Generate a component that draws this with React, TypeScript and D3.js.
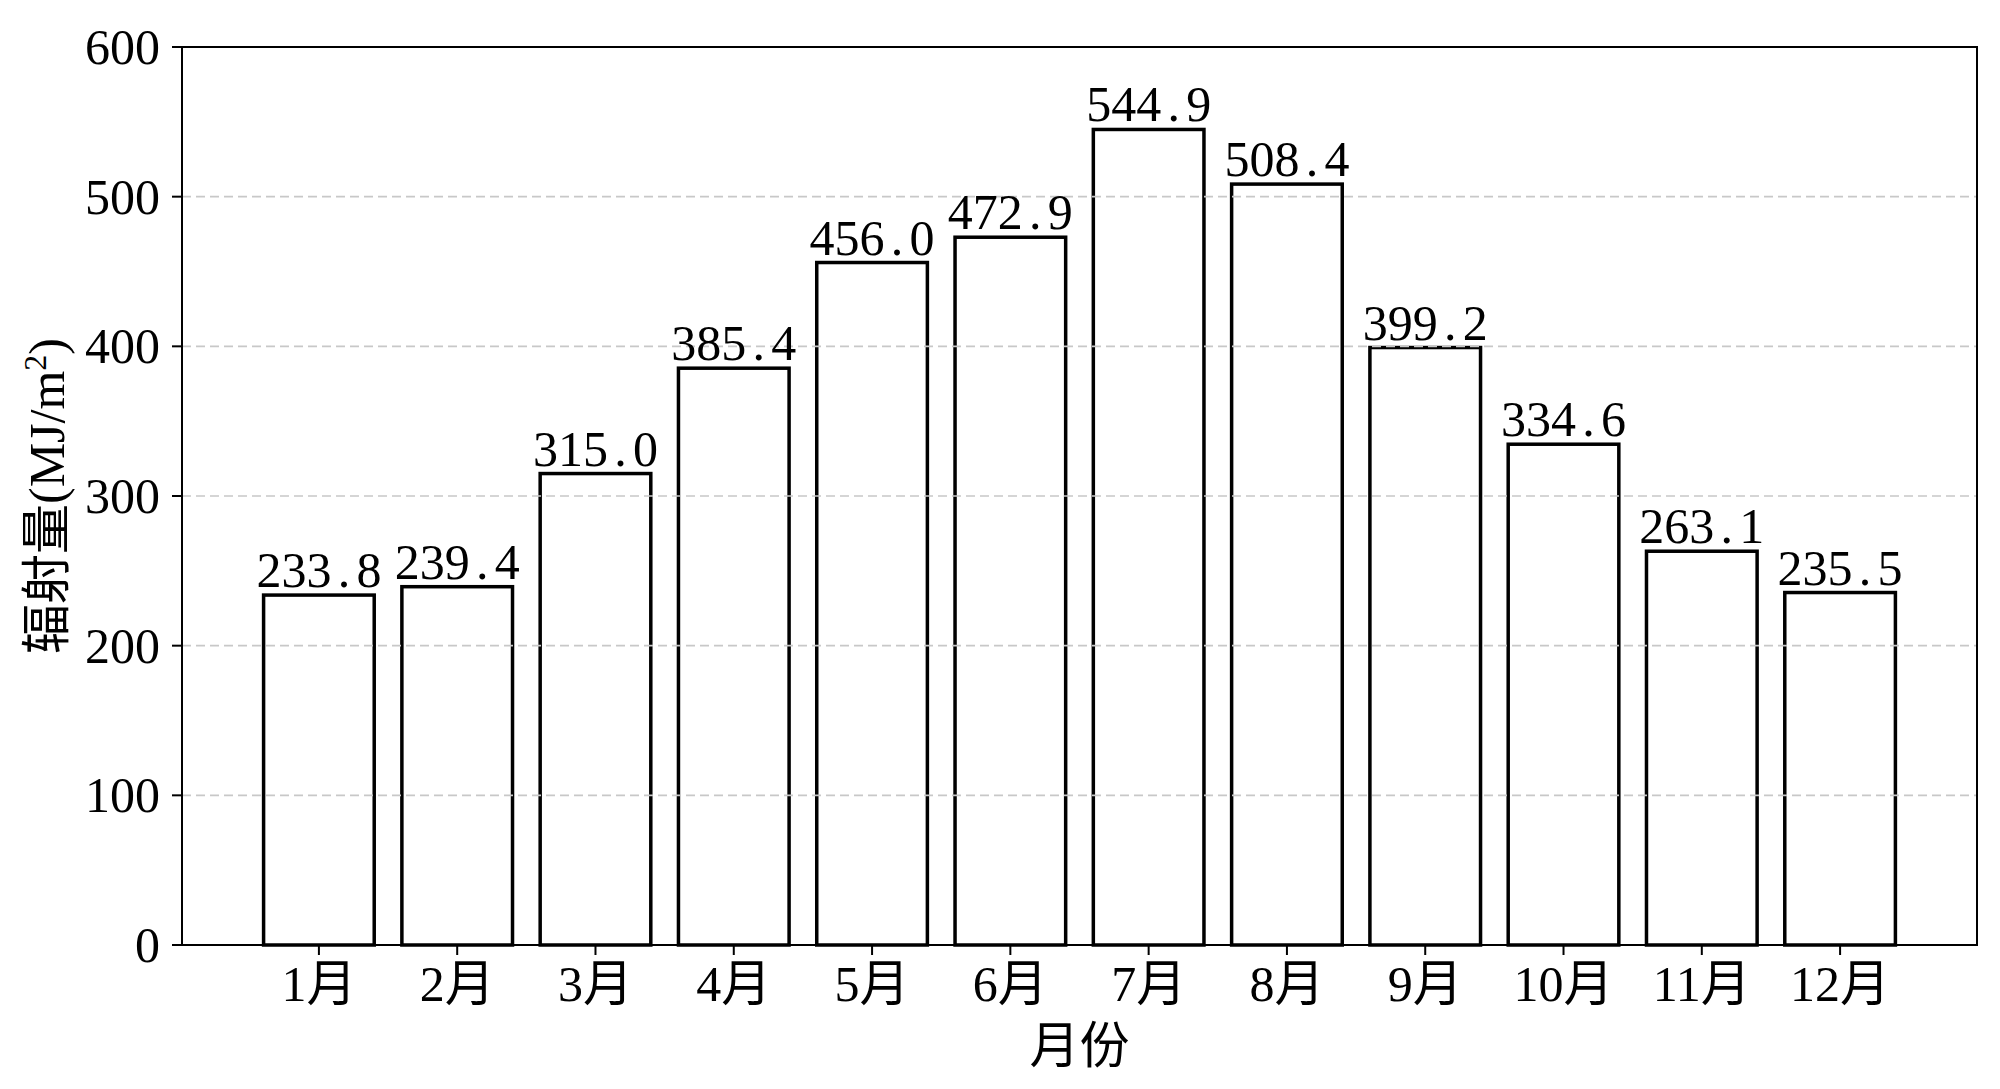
import React from "react";
import * as d3 from "d3";

const months = ["1月", "2月", "3月", "4月", "5月", "6月", "7月", "8月", "9月", "10月", "11月", "12月"];
const radiation = [233.8, 239.4, 315.0, 385.4, 456.0, 472.9, 544.9, 508.4, 399.2, 334.6, 263.1, 235.5];
const yTicks = [0, 100, 200, 300, 400, 500, 600];
const gridTicks = [100, 200, 300, 400, 500];

const W = 2000;
const H = 1089;
const M = { left: 182, right: 23, top: 47, bottom: 144 };
const FONT = "'Liberation Serif', 'Noto Sans CJK SC', serif";

export default function App() {
  const innerW = W - M.left - M.right;
  const innerH = H - M.top - M.bottom;
  // matplotlib-like: bar width 0.8, 5% margins
  const x = d3.scaleLinear().domain([-0.99, months.length - 1 + 0.99]).range([0, innerW]);
  const y = d3.scaleLinear().domain([0, 600]).range([innerH, 0]);
  const bw = x(0.8) - x(0);
  const fs = 50;
  const adv = 25;

  return (
    <svg width={W} height={H} style={{ position: "absolute", left: 0, top: 0, background: "#fff" }}>
      <rect x={0} y={0} width={W} height={H} fill="#fff" />
      <g transform={`translate(${M.left},${M.top})`}>
        {radiation.map((v, i) => (
          <rect
            key={"b" + i}
            x={x(i) - bw / 2}
            y={y(v)}
            width={bw}
            height={y(0) - y(v)}
            fill="none"
            stroke="#000"
            strokeWidth={3.5}
          />
        ))}
        {gridTicks.map((t) => (
          <line
            key={"g" + t}
            x1={0}
            x2={innerW}
            y1={y(t)}
            y2={y(t)}
            stroke="#c8c8c8"
            strokeWidth={1.6}
            strokeDasharray="9,5"
          />
        ))}
        {radiation.map((v, i) => {
          const s = v.toFixed(1);
          const chars = s.split("");
          const n = chars.length;
          return (
            <text key={"l" + i} y={y(v) - 8} fontFamily={FONT} fontSize={fs} fill="#000" textAnchor="middle">
              {chars.map((c, k) => (
                <tspan key={k} x={x(i) + (k - (n - 1) / 2) * adv}>{c}</tspan>
              ))}
            </text>
          );
        })}
        {/* frame */}
        <rect x={0} y={0} width={innerW} height={innerH} fill="none" stroke="#000" strokeWidth={2} />
        {/* y ticks */}
        {yTicks.map((t) => (
          <g key={"y" + t}>
            <line x1={-10} x2={0} y1={y(t)} y2={y(t)} stroke="#000" strokeWidth={2} />
            <text x={-22} y={y(t) + 17} textAnchor="end" fontFamily={FONT} fontSize={fs} fill="#000">
              {t}
            </text>
          </g>
        ))}
        {/* x ticks */}
        {months.map((m, i) => (
          <g key={"x" + i}>
            <line x1={x(i)} x2={x(i)} y1={innerH} y2={innerH + 10} stroke="#000" strokeWidth={2} />
            <text x={x(i)} y={innerH + 56} textAnchor="middle" fontFamily={FONT} fontSize={fs} fill="#000">
              {m}
            </text>
          </g>
        ))}
        <text x={innerW / 2} y={innerH + 118} textAnchor="middle" fontFamily={FONT} fontSize={fs} fill="#000">
          月份
        </text>
      </g>
      <text
        transform={`translate(64,${M.top + innerH / 2}) rotate(-90)`}
        textAnchor="middle"
        fontFamily={FONT}
        fontSize={fs}
        fill="#000"
      >
        辐射量(MJ/m<tspan dy={-18} fontSize={32}>2</tspan><tspan dy={18}>)</tspan>
      </text>
    </svg>
  );
}
